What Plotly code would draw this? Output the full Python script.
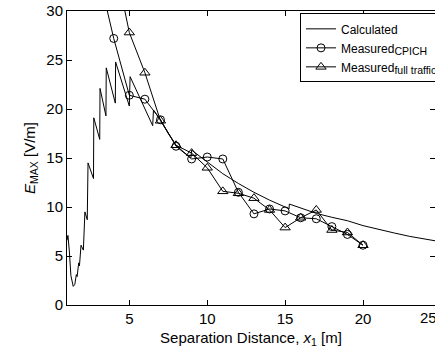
import plotly.graph_objects as go

# Calculated curve
calc_x = [1.0, 1.06, 1.15, 1.25, 1.4, 1.5, 1.6, 1.65, 1.75, 1.8, 1.9, 2.05, 2.15, 2.3,
          2.35, 2.7, 2.72, 3.1, 3.12, 3.5, 3.52, 4.1, 4.12, 5.0, 5.05, 6.5, 6.55, 7.0,
          7.5, 8.0, 8.5, 8.95, 9.0, 9.5, 10.0, 10.5, 11.0, 11.5, 12.0, 13.0, 14.0, 15.0,
          15.25, 15.27, 16.0, 17.0, 18.0, 19.0, 20.0, 21.0, 22.0, 23.0, 24.0, 25.0]
calc_y = [6.6, 7.1, 5.5, 3.0, 1.9, 2.1, 3.1, 2.9, 4.3, 4.0, 6.1, 5.6, 9.5, 8.7,
          14.5, 12.9, 19.1, 16.9, 22.1, 19.3, 24.2, 20.6, 24.8, 20.3, 23.3, 18.3, 19.9, 18.9,
          17.5, 16.3, 15.6, 15.0, 15.8, 15.2, 14.6, 14.0, 13.4, 12.9, 12.4, 11.5, 10.7, 10.0,
          9.8, 10.3, 9.9, 9.35, 8.95, 8.6, 8.1, 7.7, 7.35, 7.0, 6.7, 6.45]

# Measured CPICH
cpich_x = [3, 4, 5, 6, 7, 8, 9, 10, 11, 12, 13, 14, 15, 16, 17, 18, 19, 20]
cpich_y = [34.0, 27.2, 21.4, 21.0, 18.9, 16.2, 14.9, 15.1, 14.9, 11.5, 9.3, 9.8, 9.6, 8.9, 8.8, 8.0, 7.2, 6.1]

# Measured full traffic
full_x = [4, 5, 6, 7, 8, 9, 10, 11, 12, 13, 14, 15, 16, 17, 18, 19, 20]
full_y = [35.5, 27.8, 23.7, 18.8, 16.3, 15.5, 14.0, 11.6, 11.4, 10.9, 9.7, 7.9, 8.9, 9.7, 7.65, 7.4, 6.1]

x_ticks = [5, 10, 15, 20]
y_ticks = [0, 5, 10, 15, 20, 25, 30]
x_last_label = "25"   # partly cut off at the right edge in the reference

FONT = "Liberation Sans, Arial, Helvetica, sans-serif"

fig = go.Figure()
fig.add_trace(go.Scatter(x=calc_x, y=calc_y, mode="lines", name="Calculated",
                         line=dict(color="black", width=1)))
fig.add_trace(go.Scatter(x=cpich_x, y=cpich_y, mode="lines+markers",
                         name="Measured<sub><span style='font-size:10.5px'>CPICH</span></sub>",
                         line=dict(color="black", width=1),
                         marker=dict(symbol="circle-open", size=8, color="black",
                                     line=dict(width=1, color="black"))))
fig.add_trace(go.Scatter(x=full_x, y=full_y, mode="lines+markers",
                         name="Measured<sub><span style='font-size:10.5px'>full traffic</span></sub>",
                         line=dict(color="black", width=1),
                         marker=dict(symbol="triangle-up-open", size=9, color="black",
                                     line=dict(width=1, color="black"))))

axis_common = dict(showline=True, linecolor="black", linewidth=1, mirror="ticks",
                   ticks="inside", ticklen=5, tickcolor="black", showgrid=False,
                   zeroline=False, tickfont=dict(family=FONT, size=15, color="black"))

fig.update_layout(
    width=435, height=352, autosize=False,
    margin=dict(l=67, r=0, t=11, b=47, autoexpand=False),
    paper_bgcolor="white", plot_bgcolor="white",
    font=dict(family=FONT, color="black"),
    xaxis=dict(range=[1, 24.62], tickvals=x_ticks,
               title=dict(text="Separation Distance, <i>x</i><sub>1</sub> [m]",
                          font=dict(family=FONT, size=15, color="black"), standoff=6),
               **axis_common),
    yaxis=dict(range=[0, 30], tickvals=y_ticks,
               title=dict(text="<i>E</i><sub>MAX</sub> [V/m]",
                          font=dict(family=FONT, size=15, color="black"), standoff=7),
               **axis_common),
    showlegend=True,
    legend=dict(x=(300 - 67) / 368, y=0.992, xanchor="left", yanchor="top",
                bgcolor="white", bordercolor="black", borderwidth=1,
                font=dict(family=FONT, size=12, color="black"),
                tracegroupgap=0, itemwidth=30),
    annotations=[dict(text=x_last_label, xref="paper", yref="paper",
                      x=(428 - 67) / 368, y=0, xanchor="center", yanchor="top",
                      yshift=-2, showarrow=False,
                      font=dict(family=FONT, size=15, color="black"))],
)

post = """
document.documentElement.style.overflow='hidden';
document.body.style.margin='0';
document.body.style.overflow='hidden';
document.querySelectorAll('svg.main-svg').forEach(function(s){ s.style.overflow='hidden'; });
"""

fig.write_html("out.html", config={"displayModeBar": False}, post_script=post)
